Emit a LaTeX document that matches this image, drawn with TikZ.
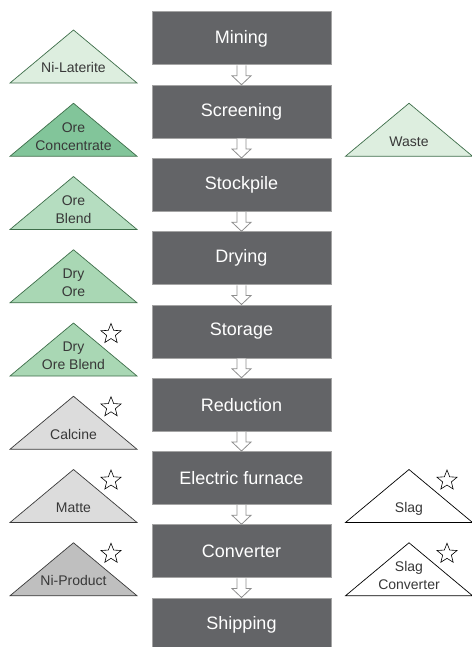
\documentclass[tikz,border=0pt]{standalone}
\usepackage{fontspec}
\setmainfont{Liberation Sans}
\usetikzlibrary{shapes.geometric,calc}

\definecolor{boxfill}{HTML}{636467}
\definecolor{boxline}{HTML}{A4A4A4}
\definecolor{arrowline}{HTML}{8E8E8E}
\definecolor{labelgray}{HTML}{383838}
\definecolor{greenline}{HTML}{3E6E4A}
\definecolor{palegreen}{HTML}{DDEEDF}
\definecolor{deepgreen}{HTML}{82C59A}
\definecolor{midgreen}{HTML}{B5DDC0}
\definecolor{softgreen}{HTML}{A9D7B4}
\definecolor{lightgray}{HTML}{DCDCDC}
\definecolor{midgray}{HTML}{BFBFBF}
\definecolor{grayline}{HTML}{3A3A3A}

\tikzset{
  procbox/.style={draw=boxline, line width=1pt, fill=boxfill, text=white,
    minimum width=179pt, minimum height=53pt, inner sep=0pt,
    font=\fontsize{18}{21}\selectfont},
  hollowarrow/.style={draw=arrowline, fill=white, line width=0.8pt, line join=miter},
  tri/.pic={\path[pic actions] (-63.5,53) -- (0,0) -- (63.5,53) -- cycle;},
  greentri/.style={draw=greenline, line width=0.7pt},
  graytri/.style={draw=grayline, line width=0.7pt},
  trilabel/.style={text=labelgray, inner sep=0pt, align=center,
    font=\fontsize{14}{18}\selectfont},
  onelabel/.style={trilabel, anchor=base},
  markstar/.style={star, star points=5, star point ratio=2.3, minimum size=21pt,
    inner sep=0pt, draw=black, fill=white, line width=0.6pt}
}

\begin{document}
\begin{tikzpicture}[x=1pt, y=-1pt]
\useasboundingbox (0,0) rectangle (471,647);

% process column
\foreach \t [count=\i from 0] in {Mining,Screening,Stockpile,Drying,Storage,Reduction,Electric furnace,Converter,Shipping}
  \node[procbox] (b\i) at (241.5, {38.5+73.25*\i}) {\t};

% hollow arrows between consecutive steps
\foreach \i [count=\j from 1] in {0,...,7}
  \draw[hollowarrow]
    ($(b\i.south)+(-4.5,0)$) -- ($(b\j.north)+(-4.5,-9)$) -- ($(b\j.north)+(-9.5,-9)$)
    -- (b\j.north)
    -- ($(b\j.north)+(9.5,-9)$) -- ($(b\j.north)+(4.5,-9)$) -- ($(b\i.south)+(4.5,0)$);

% material triangles, left column
\pic[greentri, fill=palegreen] at (73.5,30) {tri};
\pic[greentri, fill=deepgreen] at (73.5,103.25) {tri};
\pic[greentri, fill=midgreen] at (73.5,176.5) {tri};
\pic[greentri, fill=softgreen] at (73.5,249.75) {tri};
\pic[greentri, fill=softgreen] at (73.5,323) {tri};
\pic[graytri, fill=lightgray] at (73.5,396.25) {tri};
\pic[graytri, fill=lightgray] at (73.5,469.5) {tri};
\pic[graytri, fill=midgray] at (73.5,542.75) {tri};

% material triangles, right column
\pic[greentri, fill=palegreen] at (409,103.25) {tri};
\pic[graytri, draw=black, fill=white] at (409,469.5) {tri};
\pic[graytri, draw=black, fill=white] at (409,542.75) {tri};

% labels
\node[onelabel] (laterite) at (73.5,73) {Ni-Laterite};
\node[trilabel] (concentrate) at (73.5,136.25) {Ore\\Concentrate};
\node[trilabel] (blend) at (73.5,209.5) {Ore\\Blend};
\node[trilabel] (dryore) at (73.5,282.75) {Dry\\Ore};
\node[trilabel] (dryblend) at (73.5,356) {Dry\\Ore Blend};
\node[onelabel] (calcine) at (73.5,439.25) {Calcine};
\node[onelabel] (matte) at (73.5,512.5) {Matte};
\node[onelabel] (product) at (73.5,585.75) {Ni-Product};
\node[onelabel] (waste) at (409,146.25) {Waste};
\node[onelabel] (slag) at (409,512.5) {Slag};
\node[trilabel] (slagconv) at (409,575.75) {Slag\\Converter};

% star marks
\node[markstar] (s1) at (111,334) {};
\node[markstar] (s2) at (111,407.25) {};
\node[markstar] (s3) at (111,480.5) {};
\node[markstar] (s4) at (111,553.75) {};
\node[markstar] (s5) at (447,480.5) {};
\node[markstar] (s6) at (447,553.75) {};
\end{tikzpicture}
\end{document}
